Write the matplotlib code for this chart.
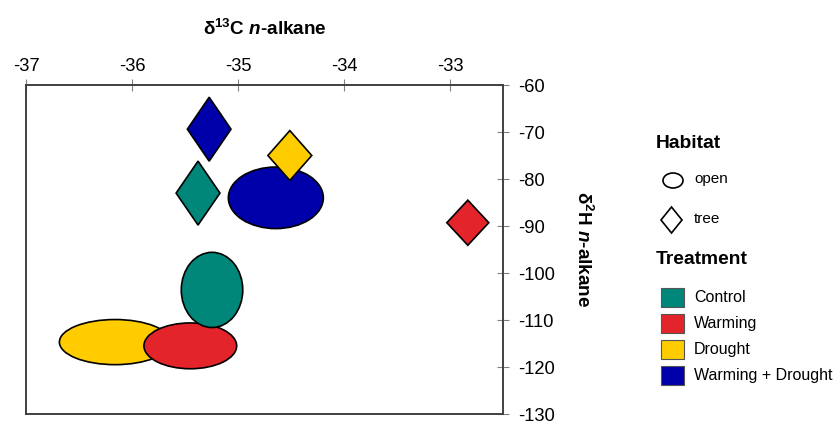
import matplotlib
matplotlib.use('Agg')
import matplotlib.pyplot as plt
from matplotlib.patches import Ellipse, Polygon, Rectangle

plt.rcParams['font.family'] = 'Liberation Sans'
plt.rcParams['axes.unicode_minus'] = False
plt.rcParams['mathtext.fontset'] = 'custom'
plt.rcParams['mathtext.bf'] = 'Liberation Sans:bold'
plt.rcParams['mathtext.it'] = 'Liberation Sans:bold:italic'
plt.rcParams['mathtext.rm'] = 'Liberation Sans:bold'

# treatments and colours
treatments = ['Control', 'Warming', 'Drought', 'Warming + Drought']
colors = ['#00877A', '#E3242B', '#FFCC00', '#0000AA']

# open habitat: ellipse centre and size (d13C, d2H)
open_x = [-35.245, -35.45, -36.16, -34.643]
open_y = [-103.6, -115.5, -114.7, -84.0]
open_w = [0.58, 0.875, 1.05, 0.896]
open_h = [16.0, 9.75, 9.6, 13.1]
open_order = [2, 1, 0, 3]

# tree habitat: diamond centre and half sizes
tree_x = [-35.377, -32.832, -34.511, -35.272]
tree_y = [-83.0, -89.3, -75.0, -69.4]
tree_hw = [0.207, 0.198, 0.207, 0.206]
tree_hh = [6.8, 4.8, 5.3, 6.8]

xticks = [-37, -36, -35, -34, -33]
yticks = [-60, -70, -80, -90, -100, -110, -120, -130]

fig = plt.figure(figsize=(8.36, 4.23), dpi=100)
ax = fig.add_axes([26/836, 1-414/423, (503-26)/836, (414-85)/423])

for i in open_order:
    ax.add_patch(Ellipse((open_x[i], open_y[i]), open_w[i], open_h[i],
                         facecolor=colors[i], edgecolor='black', lw=1.2, zorder=2+open_order.index(i)*0.1))
for i in range(len(treatments)):
    x, y, w, h = tree_x[i], tree_y[i], tree_hw[i], tree_hh[i]
    ax.add_patch(Polygon([(x, y+h), (x+w, y), (x, y-h), (x-w, y)], closed=True,
                         facecolor=colors[i], edgecolor='black', lw=1.2, zorder=3))

ax.set_xlim(-37, -32.5)
ax.set_ylim(-130, -60)
ax.set_xticks(xticks)
ax.set_yticks(yticks)
ax.xaxis.tick_top()
ax.yaxis.tick_right()
ax.xaxis.set_label_position('top')
ax.yaxis.set_label_position('right')
ax.tick_params(direction='inout', length=8, width=0.8, color='#808080', labelsize=13.2, pad=3)
ax.tick_params(axis='y', pad=7)
for s in ax.spines.values():
    s.set_color('#404040')
    s.set_linewidth(1.4)

ax.set_xlabel(r'δ$^{13}$C $\mathit{n}$-alkane', fontsize=13.6, fontweight='bold', labelpad=17)
ax.set_ylabel(r'δ$^{2}$H $\mathit{n}$-alkane', fontsize=13.6, fontweight='bold', rotation=-90, labelpad=27)

# legend drawn in pixel space
lg = fig.add_axes([0, 0, 1, 1])
lg.set_xlim(0, 836)
lg.set_ylim(423, 0)
lg.axis('off')
lg.text(656, 143, 'Habitat', fontsize=13.9, fontweight='bold', va='center')
lg.add_patch(Ellipse((673, 180.5), 20, 15, facecolor='none', edgecolor='black', lw=1.2))
lg.text(694, 179, 'open', fontsize=11, va='center')
lg.add_patch(Polygon([(671.5, 207), (682, 220), (671.5, 233), (661, 220)], closed=True,
                     facecolor='none', edgecolor='black', lw=1.2))
lg.text(694, 219, 'tree', fontsize=11, va='center')
lg.text(656, 260, 'Treatment', fontsize=13.9, fontweight='bold', va='center')
for k, (lab, c) in enumerate(zip(treatments, colors)):
    top = 288 + k*25.9
    lg.add_patch(Rectangle((661, top), 23, 19.5, facecolor=c, edgecolor='#555555', lw=0.8))
    lg.text(694, top + 10, lab, fontsize=11.5, va='center')

fig.savefig('out.png', dpi=100)
